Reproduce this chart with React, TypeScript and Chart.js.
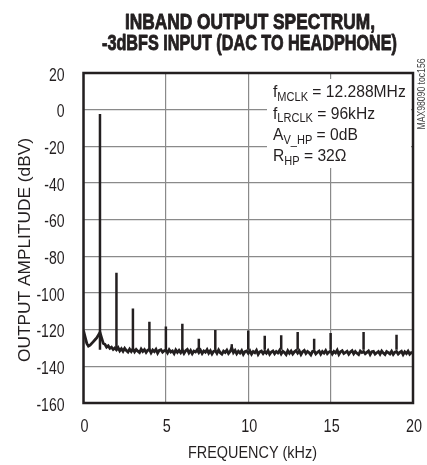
import React, { useEffect, useRef } from "react";
import { Chart, registerables } from "chart.js";

Chart.register(...registerables);

const TITLE_LINES = ["INBAND OUTPUT SPECTRUM,", "-3dBFS INPUT (DAC TO HEADPHONE)"];
const X_LABEL = "FREQUENCY (kHz)";
const Y_LABEL = "OUTPUT AMPLITUDE (dBV)";
const SIDE_NOTE = "MAX98090 toc156";

const X_TICKS = [0, 5, 10, 15, 20];
const Y_TICKS = [20, 0, -20, -40, -60, -80, -100, -120, -140, -160];

// noise floor sampled every 0.1 kHz from 0 to 20 kHz
const NOISE_STEP_KHZ = 0.1;
const NOISE_DBV = [
  -120.5, -124, -127.5, -129, -128.5, -127.5, -126.5, -125.5, -124.5, -123,
  -121.5, -124.5, -127.5, -128, -129.5, -128.8, -130.2, -129.6, -130.8, -130,
  -131, -129.8, -131.6, -130.4, -131.8, -130.2, -131.4, -132.2, -130.6, -131.9,
  -130.5, -132.1, -130.8, -131.7, -132.5, -130.6, -131.9, -130.9, -132.4, -131.2,
  -130.8, -132.6, -131.1, -132, -130.7, -132.8, -131.3, -130.9, -132.3, -131.5,
  -131.2, -132.7, -130.9, -132.2, -131.6, -133, -131, -132.4, -131.3, -132.6,
  -131.1, -132.9, -131.5, -130.8, -132.7, -131.4, -133.1, -131.7, -132.2, -131,
  -132.5, -131.2, -133, -131.6, -132.3, -130.9, -132.8, -131.5, -133.2, -131.8,
  -131.4, -132.9, -131.1, -132.6, -133.3, -131.7, -132.4, -131.2, -133, -131.9,
  -129.8, -132.5, -131.3, -133.1, -131.8, -132.7, -131.4, -133.4, -132, -131.6,
  -132.9, -131.5, -133.3, -131.9, -132.6, -131.2, -133.5, -132.1, -131.7, -133,
  -131.8, -132.8, -131.4, -133.4, -132.2, -131.6, -133.1, -131.9, -132.7, -131.3,
  -133.2, -131.8, -132.5, -133.6, -131.5, -132.9, -131.7, -133.3, -132.1, -131.4,
  -132.8, -131.6, -133.5, -132, -131.3, -133, -131.9, -132.6, -133.7, -131.8,
  -131.5, -133.2, -132.3, -131.7, -133.4, -131.9, -132.8, -131.4, -133.1, -132.2,
  -131.6, -133.3, -131.9, -132.7, -131.2, -133.5, -132, -131.5, -133, -132.4,
  -131.8, -133.4, -132.1, -131.4, -133.2, -131.9, -132.9, -133.6, -131.7, -132.5,
  -131.9, -133.1, -132.4, -131.6, -133.5, -132, -131.8, -133.3, -132.6, -131.9,
  -133.4, -131.7, -132.8, -133.6, -131.9, -132.5, -133.2, -131.8, -133.5, -132.3,
  -131.9, -133.3, -132.4, -131.8, -133.6, -132.1, -133, -131.7, -133.4, -132.5,
  -132.8,
];

// fundamental and harmonic spikes
const HARMONIC_KHZ = [1, 2, 3, 4, 5, 6, 7, 8, 9, 10, 11, 12, 13, 14, 15, 17, 19];
const HARMONIC_DBV = [
  -2.4, -89, -108.5, -115.7, -118.3, -116.8, -125, -120.2, -128, -120.4,
  -123.3, -123, -121.3, -125, -121.8, -121.3, -122.8,
];
const SPIKE_BASE_DBV = -131;

const NOTE_LINES: [string, boolean][][] = [
  [["f", false], ["MCLK", true], [" = 12.288MHz", false]],
  [["f", false], ["LRCLK", true], [" = 96kHz", false]],
  [["A", false], ["V_HP", true], [" = 0dB", false]],
  [["R", false], ["HP", true], [" = 32\u03A9", false]],
];

const SANS = "'Liberation Sans', Arimo, Arial, sans-serif";
const INK = "#231f20";
const GRID = "#8a8a8a";

// draw text horizontally compressed (condensed look); width either forced or scaled
function drawText(
  ctx: CanvasRenderingContext2D,
  text: string,
  x: number,
  y: number,
  font: string,
  align: "left" | "center" | "right",
  opts: { width?: number; sx?: number; stroke?: number }
) {
  ctx.save();
  ctx.font = font;
  const w = ctx.measureText(text).width;
  const sx = opts.width ? opts.width / w : opts.sx ?? 1;
  ctx.translate(x, y);
  ctx.scale(sx, 1);
  ctx.textAlign = align;
  ctx.fillText(text, 0, 0);
  if (opts.stroke) {
    ctx.strokeStyle = ctx.fillStyle as string;
    ctx.lineWidth = opts.stroke;
    ctx.lineJoin = "round";
    ctx.strokeText(text, 0, 0);
  }
  ctx.restore();
}

const decor = {
  id: "decor",
  beforeDatasetsDraw(chart: any) {
    const { ctx, chartArea } = chart;
    ctx.save();
    ctx.fillStyle = "#ffffff";
    ctx.fillRect(267, chartArea.top + 6, chartArea.right - 2 - 267, 89);
    ctx.restore();
  },
  afterDraw(chart: any) {
    const { ctx, chartArea, scales } = chart;
    const { left, right, top, bottom } = chartArea;
    ctx.save();
    // frame
    ctx.strokeStyle = INK;
    ctx.lineWidth = 2.5;
    ctx.strokeRect(left, top, right - left, bottom - top);

    ctx.fillStyle = INK;
    ctx.textBaseline = "alphabetic";
    // title
    drawText(ctx, TITLE_LINES[0], 250, 28.5, `bold 22px ${SANS}`, "center", { width: 250, stroke: 0.9 });
    drawText(ctx, TITLE_LINES[1], 249.5, 50, `bold 22px ${SANS}`, "center", { width: 295, stroke: 0.9 });

    // tick labels
    for (const v of Y_TICKS) {
      const py = scales.y.getPixelForValue(v);
      drawText(ctx, String(v), 64.5, py + 7.5, `18px ${SANS}`, "right", { sx: 0.78 });
    }
    for (const v of X_TICKS) {
      const px = scales.x.getPixelForValue(v);
      drawText(ctx, String(v), px + 1, 431.5, `18px ${SANS}`, "center", { sx: 0.8 });
    }

    // axis titles
    drawText(ctx, X_LABEL, 252.5, 458, `16.5px ${SANS}`, "center", { width: 129 });
    ctx.save();
    ctx.translate(29.5, 250);
    ctx.rotate(-Math.PI / 2);
    drawText(ctx, Y_LABEL, 0, 0, `17px ${SANS}`, "center", { width: 224 });
    ctx.restore();

    // note box text
    const baselines = [97, 118.5, 140, 161];
    let natural = 0;
    for (const [t, sub] of NOTE_LINES[0]) {
      ctx.font = sub ? `12px ${SANS}` : `17px ${SANS}`;
      natural += ctx.measureText(t).width;
    }
    const nsx = 132.7 / natural;
    NOTE_LINES.forEach((parts, i) => {
      let cx = 273;
      const y = baselines[i];
      for (const [t, sub] of parts) {
        const font = sub ? `12px ${SANS}` : `17px ${SANS}`;
        ctx.font = font;
        const w = ctx.measureText(t).width * nsx;
        drawText(ctx, t, cx, sub ? y + 3.5 : y, font, "left", { sx: nsx });
        cx += w;
      }
    });

    // side note
    ctx.save();
    ctx.translate(424.5, 94);
    ctx.rotate(-Math.PI / 2);
    ctx.fillStyle = "#444";
    drawText(ctx, SIDE_NOTE, 0, 0, `10px ${SANS}`, "center", { width: 71 });
    ctx.restore();

    ctx.restore();
  },
};

export default function App() {
  const ref = useRef<HTMLCanvasElement>(null);

  useEffect(() => {
    const noiseData = NOISE_DBV.map((y, i) => ({ x: +(i * NOISE_STEP_KHZ).toFixed(2), y }));
    const spikeData: { x: number; y: number | null }[] = [];
    HARMONIC_KHZ.forEach((f, i) => {
      spikeData.push({ x: f, y: SPIKE_BASE_DBV });
      spikeData.push({ x: f, y: HARMONIC_DBV[i] });
      spikeData.push({ x: f, y: null });
    });

    const chart = new Chart(ref.current!, {
      type: "line",
      data: {
        datasets: [
          {
            data: noiseData,
            borderColor: INK,
            borderWidth: 2.8,
            pointRadius: 0,
            tension: 0,
          },
          {
            data: spikeData as any,
            borderColor: INK,
            borderWidth: 2.5,
            pointRadius: 0,
            tension: 0,
            spanGaps: false,
          },
        ],
      },
      options: {
        responsive: false,
        animation: false,
        devicePixelRatio: 1,
        layout: { padding: { left: 0, top: 73, right: 14, bottom: 0 } },
        plugins: {
          legend: { display: false },
          title: { display: false },
          tooltip: { enabled: false },
        },
        scales: {
          x: {
            type: "linear",
            min: 0,
            max: 20,
            afterBuildTicks: (s: any) => {
              s.ticks = X_TICKS.map((v) => ({ value: v }));
            },
            afterFit: (s: any) => {
              s.height = 62;
            },
            grid: { color: GRID, lineWidth: 1.2, drawTicks: false },
            border: { display: false },
            ticks: { display: false },
          },
          y: {
            type: "linear",
            min: -160,
            max: 20,
            afterBuildTicks: (s: any) => {
              s.ticks = Y_TICKS.map((v) => ({ value: v }));
            },
            afterFit: (s: any) => {
              s.width = 83.5;
            },
            grid: { color: GRID, lineWidth: 1.2, drawTicks: false },
            border: { display: false },
            ticks: { display: false },
          },
        },
      },
      plugins: [decor],
    });
    return () => chart.destroy();
  }, []);

  return (
    <div style={{ position: "fixed", left: 0, top: 0, width: 427, height: 465, background: "#fff" }}>
      <canvas ref={ref} width={427} height={465} style={{ width: 427, height: 465, display: "block" }} />
    </div>
  );
}
